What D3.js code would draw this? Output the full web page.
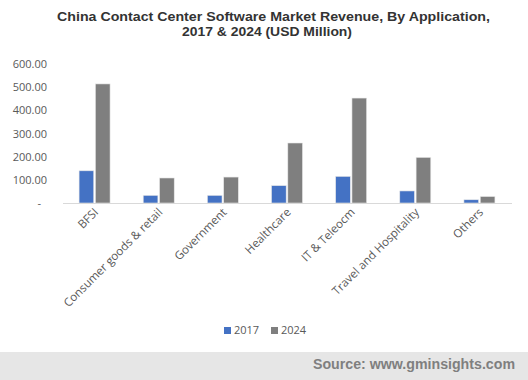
<!DOCTYPE html>
<html><head><meta charset="utf-8">
<script src="https://cdn.jsdelivr.net/npm/d3@7"></script>
<style>body{margin:0;background:#fff}svg{display:block}</style>
</head><body>
<svg id="c" width="528" height="380"></svg>
<script>
const categories = ["BFSI","Consumer goods & retail","Government","Healthcare","IT & Teleocm","Travel and Hospitality","Others"];
const series = ["2017","2024"];
const values2017 = [139, 33, 33, 75, 115, 52, 14];
const values2024 = [514, 108, 112, 259, 453, 197, 28];
const yTicks = [0, 100, 200, 300, 400, 500, 600];
const colors = ["#4472C4", "#7F7F7F"];

const svg = d3.select("#c");
const W = 528, H = 380;
const x0 = 63, x1 = 512, yTop = 64, yBase = 203;

// title
svg.append("text").attr("x", 57).attr("y", 20.5)
  .attr("font-family","Liberation Sans, Arial, sans-serif").attr("font-weight","bold")
  .attr("font-size", 13.2).attr("fill","#333").attr("textLength", 433).attr("lengthAdjust","spacingAndGlyphs")
  .text("China Contact Center Software Market Revenue, By Application,");
svg.append("text").attr("x", 182).attr("y", 36)
  .attr("font-family","Liberation Sans, Arial, sans-serif").attr("font-weight","bold")
  .attr("font-size", 13.2).attr("fill","#333").attr("textLength", 170).attr("lengthAdjust","spacingAndGlyphs")
  .text("2017 & 2024 (USD Million)");

const x = d3.scaleBand().domain(categories).range([x0, x1]);
const xs = d3.scaleBand().domain(series).range([0, 31]).paddingInner(0.1);
const y = d3.scaleLinear().domain([0, 600]).range([yBase, yTop]);

// y axis labels
const yAxis = d3.axisLeft(y).tickValues(yTicks).tickSize(0).tickPadding(0)
  .tickFormat(d => d === 0 ? "-" : d3.format(".2f")(d));
const gy = svg.append("g").attr("transform", "translate(47,0)").call(yAxis);
gy.select(".domain").remove();
gy.selectAll("text").attr("font-family","Open Sans, sans-serif").attr("font-size", 11).attr("fill","#595959");
gy.selectAll(".tick").filter(d => d === 0).select("text").attr("dx", -6);

// bars
const data = [values2017, values2024];
const groups = svg.append("g");
categories.forEach((c, i) => {
  series.forEach((s, j) => {
    const v = data[j][i];
    groups.append("rect")
      .attr("x", x(c) + x.bandwidth()/2 - 16 + xs(s))
      .attr("y", y(v))
      .attr("width", xs.bandwidth())
      .attr("height", yBase - y(v))
      .attr("fill", colors[j])
      .attr("stroke", "#e8e8e8").attr("stroke-width", 0.6);
  });
});

// baseline
svg.append("line").attr("x1", x0).attr("x2", x1).attr("y1", yBase + 0.5).attr("y2", yBase + 0.5)
  .attr("stroke", "#d9d9d9").attr("stroke-width", 1);

// x labels
const xAxis = d3.axisBottom(x).tickSize(0).tickPadding(0);
const gx = svg.append("g").attr("transform", `translate(0,${yBase})`).call(xAxis);
gx.select(".domain").remove();
gx.selectAll("text")
  .attr("font-family","Open Sans, sans-serif").attr("font-size", 11.6).attr("fill","#595959")
  .attr("text-anchor","end").attr("dy", 0)
  .attr("transform", "translate(4,10) rotate(-45)");

// legend
const lg = svg.append("g").attr("transform","translate(224,334)");
series.forEach((s, j) => {
  const gx0 = j * 47;
  lg.append("rect").attr("x", gx0).attr("y", -7).attr("width", 7).attr("height", 7).attr("fill", colors[j]);
  lg.append("text").attr("x", gx0 + 10).attr("y", 0).attr("font-family","Open Sans, sans-serif")
    .attr("font-size", 11).attr("fill","#595959").text(s);
});

// footer
svg.append("rect").attr("x", 0).attr("y", 352).attr("width", W).attr("height", 28).attr("fill", "#e6e6e6");
svg.append("text").attr("x", 313).attr("y", 369)
  .attr("font-family","Liberation Sans, Arial, sans-serif").attr("font-weight","bold")
  .attr("font-size", 14).attr("fill","#7f7f7f").attr("textLength", 202).attr("lengthAdjust","spacingAndGlyphs")
  .text("Source: www.gminsights.com");
</script>
</body></html>
